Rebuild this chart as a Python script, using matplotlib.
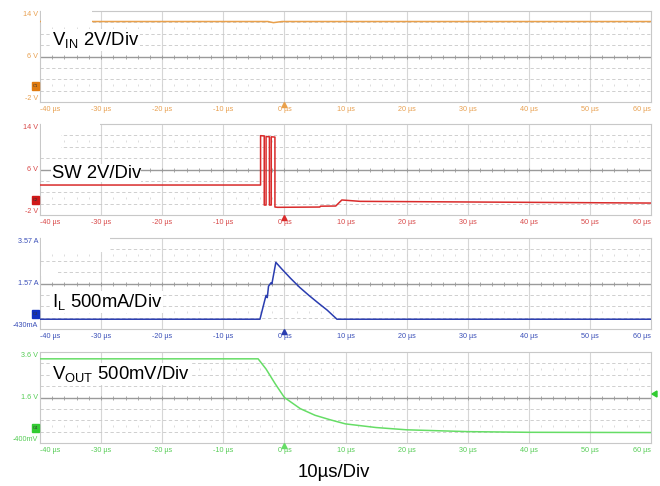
"""Oscilloscope capture: VIN / SW / IL / VOUT during a shutdown event."""

import matplotlib

matplotlib.use("Agg")
import matplotlib.pyplot as plt
import numpy as np
from matplotlib.patches import Polygon, Rectangle

W, H = 660, 486

plt.rcParams["mathtext.fontset"] = "custom"
plt.rcParams["mathtext.rm"] = "Liberation Sans"
plt.rcParams["mathtext.it"] = "Liberation Sans"

# ---------------------------------------------------------------------------
# Data (time in µs)
# ---------------------------------------------------------------------------
X_TICKS = [-40, -30, -20, -10, 0, 10, 20, 30, 40, 50, 60]
X_TICK_LABELS = ["-40 µs", "-30 µs", "-20 µs", "-10 µs", "0 µs", "10 µs",
                 "20 µs", "30 µs", "40 µs", "50 µs", "60 µs"]

VIN_YLIM = (-2, 14)
VIN_YLABELS = ["14 V", "6 V", "-2 V"]
SW_YLIM = (-2, 14)
SW_YLABELS = ["14 V", "6 V", "-2 V"]
IL_YLIM = (-0.43, 3.57)
IL_YLABELS = ["3.57 A", "1.57 A", "-430mA"]
VOUT_YLIM = (-0.4, 3.6)
VOUT_YLABELS = ["3.6 V", "1.6 V", "-400mV"]

VIN_T = [-40, -2.7, -1.8, -0.4, 60]
VIN_V = [12.15, 12.15, 11.95, 12.15, 12.15]

SW_T = [-40, -3.9, -3.9, -3.3, -3.3, -3.0, -3.0, -2.45, -2.45, -2.15, -2.15,
        -1.55, -1.55, -1.1, 5.8, 5.9, 8.4, 9.4, 12.4, 60]
SW_V = [3.27, 3.27, 11.95, 11.9, -0.25, -0.25, 11.8, 11.75, -0.25, -0.25, 11.75,
        11.7, -0.6, -0.65, -0.6, -0.45, -0.42, 0.64, 0.4, 0.1]

IL_T = [-40, -4.0, -3.2, -3.0, -2.8, -2.6, -2.2, -2.05, -1.4, -0.4, 1.0, 2.5,
        4.0, 5.5, 7.0, 8.6, 60]
IL_A = [0.0, 0.0, 0.85, 1.05, 0.95, 1.45, 1.6, 1.55, 2.5, 2.2, 1.8, 1.4,
        1.05, 0.72, 0.4, 0.0, 0.0]

VOUT_T = [-40, -4.3, -3.0, -1.5, 0.0, 2.6, 5.0, 7.5, 10.0, 15.0, 20.0, 30.0, 40.0, 60.0]
VOUT_V = [3.3, 3.3, 2.85, 2.2, 1.6, 1.11, 0.82, 0.62, 0.44, 0.28, 0.18, 0.1, 0.07, 0.06]

# ---------------------------------------------------------------------------
# Layout / style
# ---------------------------------------------------------------------------
LEFT, RIGHT = 40, 651
PANEL_TOPS = [11, 124, 238, 352]
PANEL_H = 91

ORANGE = "#E9A04B"
RED = "#D92B2B"
BLUE = "#2A3DB0"
GREEN = "#66DD66"
LABEL_COLORS = ["#E8A050", "#D84848", "#3A4FB8", "#55CC55"]


def fx(x):
    return x / W


def fy(y):
    return 1 - y / H


def _draw_panel(ax, t, v, ylim, ylabels, color, label_color):
    lo, hi = ylim
    div = (hi - lo) / 8
    center = lo + 4 * div
    ax.set_xlim(-40, 60)
    ax.set_ylim(lo, hi)

    # graticule
    for xt in X_TICKS[1:-1]:
        ax.axvline(xt, color="#d6d6d6", lw=0.8, zorder=1)
    for k in range(1, 8):
        y = lo + k * div
        if k == 4:
            ax.axhline(y, color="#9a9a9a", lw=1.0, zorder=1)
        else:
            ax.axhline(y, color="#c8c8c8", lw=0.6, ls=(0, (4, 3)), zorder=1)
    minor = np.arange(-38, 60, 2)
    ax.plot(minor, np.full(minor.shape, center), "|", ms=3.5, mew=0.6,
            color="#9a9a9a", zorder=1)
    for yy in (center + 2.5 * div, center - 2.5 * div):
        ax.plot(minor, np.full(minor.shape, yy), "|", ms=2, mew=0.5,
                color="#cfcfcf", zorder=1)

    ax.plot(t, v, color=color, lw=1.1, zorder=3)

    ax.set_xticks([])
    ax.set_yticks([])
    for s in ax.spines.values():
        s.set_color("#c8c8c8")
        s.set_linewidth(0.8)

    # x tick labels
    for xt, lab in zip(X_TICKS, X_TICK_LABELS):
        ha = "left" if xt == -40 else ("right" if xt == 60 else "center")
        ax.text(xt, -0.04, lab, transform=ax.get_xaxis_transform(), ha=ha,
                va="top", fontsize=5.2, color=label_color,
                family="Liberation Sans")
    # y labels (top / center / bottom)
    for yv, lab, va in zip([hi, center, lo], ylabels, ["top", "center", "bottom"]):
        ax.text(-40.3, yv, lab, ha="right", va=va, fontsize=5.2,
                color=label_color, family="Liberation Sans")


def _marker(fig, y_center, color, text):
    fig.add_artist(Rectangle((fx(32), fy(y_center + 4)), 7 / W, 8 / H,
                             transform=fig.transFigure, facecolor=color,
                             edgecolor=color, zorder=6))
    fig.text(fx(35.5), fy(y_center), text, fontsize=3, color="#333333",
             ha="center", va="center", zorder=7)


def _trigger_arrow(fig, y_base, color):
    x0 = 284.5
    pts = [(fx(x0 - 2.5), fy(y_base + 5)), (fx(x0 + 2.5), fy(y_base + 5)),
           (fx(x0), fy(y_base))]
    fig.add_artist(Polygon(pts, closed=True, transform=fig.transFigure,
                           facecolor=color, edgecolor=color, zorder=6))


def _white(fig, x0, y0, x1, y1):
    fig.add_artist(Rectangle((fx(x0), fy(y1)), (x1 - x0) / W, (y1 - y0) / H,
                             transform=fig.transFigure, facecolor="white",
                             edgecolor="none", zorder=5))


def main() -> None:
    fig = plt.figure(figsize=(W / 100, H / 100), dpi=100)

    panels = [
        (VIN_T, VIN_V, VIN_YLIM, VIN_YLABELS, ORANGE),
        (SW_T, SW_V, SW_YLIM, SW_YLABELS, RED),
        (IL_T, IL_A, IL_YLIM, IL_YLABELS, BLUE),
        (VOUT_T, VOUT_V, VOUT_YLIM, VOUT_YLABELS, GREEN),
    ]
    for i, (t, v, ylim, ylabels, color) in enumerate(panels):
        top = PANEL_TOPS[i]
        ax = fig.add_axes([fx(LEFT), fy(top + PANEL_H), (RIGHT - LEFT) / W, PANEL_H / H])
        _draw_panel(ax, t, v, ylim, ylabels, color, LABEL_COLORS[i])
        _trigger_arrow(fig, top + PANEL_H + 0.5, color)

    # ground markers
    _marker(fig, 86, "#E07B10", "C1")
    _marker(fig, 200, "#D01818", "C2")
    _marker(fig, 314, "#1030C0", "C3")
    _marker(fig, 428, "#33CC33", "C4")

    # trigger level arrow on VOUT
    fig.add_artist(Polygon([(fx(652), fy(394)), (fx(657), fy(391)), (fx(657), fy(397))],
                           closed=True, transform=fig.transFigure,
                           facecolor="#33CC33", edgecolor="#33CC33", zorder=6))

    # erased annotation areas
    _white(fig, 40.5, 9, 92, 23)
    _white(fig, 40.5, 121, 100, 128)
    _white(fig, 40.5, 128, 61, 150)
    _white(fig, 40.5, 235, 110, 252)
    _white(fig, 40.5, 266, 57, 276)

    # channel annotations
    kw = dict(fontsize=13.3, family="Liberation Sans", color="black", zorder=8,
              bbox=dict(facecolor="white", edgecolor="none", pad=0.5))
    fig.text(fx(51.5), fy(45), r"V$_{\mathrm{IN}}$ 2V/Div", va="baseline", **kw)
    fig.text(fx(51.5), fy(177.5), "SW 2V/Div", va="baseline", **kw)
    fig.text(fx(52), fy(307), r"I$_{\mathrm{L}}$ 500mA/Div", va="baseline", **kw)
    fig.text(fx(52), fy(379), r"V$_{\mathrm{OUT}}$ 500mV/Div", va="baseline", **kw)
    fig.text(fx(334), fy(477), "10µs/Div", va="baseline", ha="center",
             fontsize=13.3, family="Liberation Sans", color="black")

    fig.savefig("out.png", dpi=100, facecolor="white")
    plt.close(fig)


if __name__ == "__main__":
    main()
